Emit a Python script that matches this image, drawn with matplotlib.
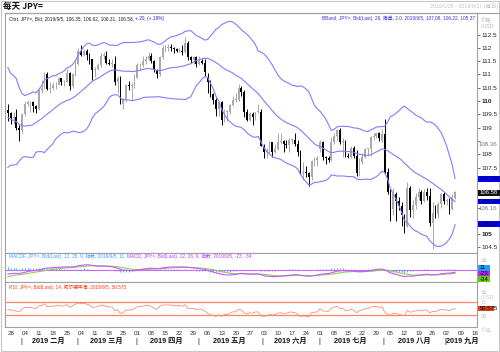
import numpy as np
import pandas as pd
import matplotlib
matplotlib.use('Agg')
import matplotlib.pyplot as plt
from matplotlib import font_manager, transforms
from matplotlib.patches import Rectangle
from matplotlib.lines import Line2D

plt.rcParams['font.family'] = ['Liberation Sans', 'Noto Sans CJK SC', 'DejaVu Sans']
_names = {f.name for f in font_manager.fontManager.ttflist}
NARROW = 'Liberation Sans Narrow' if 'Liberation Sans Narrow' in _names else 'Liberation Sans'
FN = [NARROW, 'Noto Sans CJK SC', 'DejaVu Sans']
FS = ['Liberation Sans', 'Noto Sans CJK SC', 'DejaVu Sans']
LEG = 3.45

# ---------------- data ----------------
# closes before the visible window (2018-11-01 .. 2019-01-24), used only to warm up indicators
warmup_close = [
    112.7, 113.2, 113.2, 113.4, 113.5, 114.0, 113.8, 114.0, 113.8, 113.6, 113.6,
    112.8, 112.6, 112.8, 113.0, 112.9, 112.9, 113.5, 113.8, 113.7, 113.5, 113.5,
    113.6, 112.8, 113.2, 112.7, 112.6, 113.3, 113.4, 113.3, 113.6, 113.4, 112.8,
    112.5, 112.4, 111.2, 111.2, 110.3, 110.5, 111.3, 110.9, 110.3, 109.7,
    109.6, 108.9, 107.7, 108.5, 108.7, 108.7, 108.2, 108.4, 108.5, 108.2, 108.7,
    108.9, 109.2, 109.8, 109.7, 109.4, 109.6, 109.6]

ohlc = [
    (109.65, 109.90, 109.25, 109.55), (109.55, 109.60, 109.15, 109.35), (109.35, 109.60, 109.15, 109.40),
    (109.40, 109.70, 108.90, 109.00), (109.00, 109.10, 108.50, 108.90), (108.90, 109.55, 108.80, 109.50),
    (109.50, 110.00, 109.45, 109.90), (109.90, 110.05, 109.80, 109.95), (109.95, 110.00, 109.60, 109.95),
    (109.95, 110.00, 109.60, 109.80), (109.80, 109.85, 109.55, 109.70), (109.70, 110.45, 109.65, 110.40),
    (110.40, 110.80, 110.30, 110.50), (110.50, 111.10, 110.45, 111.00), (111.00, 111.10, 110.40, 110.45),
    (110.45, 110.70, 110.30, 110.50), (110.50, 110.70, 110.40, 110.60), (110.60, 110.70, 110.45, 110.60),
    (110.60, 110.90, 110.60, 110.85), (110.85, 110.85, 110.60, 110.70), (110.70, 110.80, 110.55, 110.70),
    (110.70, 111.20, 110.70, 111.05), (111.05, 111.10, 110.40, 110.55), (110.55, 111.05, 110.50, 111.00),
    (111.00, 111.50, 110.95, 111.40), (111.40, 112.00, 111.35, 111.90), (111.90, 112.10, 111.70, 111.75),
    (111.75, 111.95, 111.70, 111.90), (111.90, 111.95, 111.55, 111.75), (111.75, 111.80, 111.40, 111.60),
    (111.60, 111.60, 110.80, 111.15), (111.15, 111.30, 110.90, 111.20), (111.20, 111.45, 111.15, 111.35),
    (111.35, 111.80, 111.30, 111.70), (111.70, 111.85, 111.60, 111.70), (111.70, 111.90, 111.40, 111.45),
    (111.45, 111.60, 111.35, 111.40), (111.40, 111.60, 111.30, 111.40), (111.40, 111.70, 110.60, 110.70),
    (110.70, 110.95, 110.30, 110.85), (110.85, 110.95, 109.90, 109.90), (109.90, 110.10, 109.70, 110.05),
    (110.05, 110.65, 109.95, 110.60), (110.60, 110.75, 110.40, 110.55), (110.55, 110.70, 110.00, 110.60),
    (110.60, 111.00, 110.50, 110.85), (110.85, 111.45, 110.85, 111.35), (111.35, 111.45, 111.15, 111.35),
    (111.35, 111.70, 111.30, 111.50), (111.50, 111.70, 111.40, 111.60), (111.60, 111.85, 111.55, 111.70),
    (111.70, 111.80, 111.45, 111.50), (111.50, 111.55, 111.10, 111.15), (111.15, 111.20, 110.85, 111.00),
    (111.00, 111.70, 110.95, 111.65), (111.65, 112.10, 111.60, 112.00), (112.00, 112.10, 111.85, 112.00),
    (112.00, 112.15, 111.90, 112.05), (112.05, 112.15, 111.90, 112.00), (112.00, 112.05, 111.80, 111.95),
    (111.95, 112.00, 111.85, 111.90), (111.90, 112.00, 111.85, 111.95), (111.90, 112.10, 111.75, 111.85),
    (111.85, 112.40, 111.80, 112.20), (112.20, 112.25, 111.55, 111.65), (111.65, 111.70, 111.45, 111.55),
    (111.55, 111.70, 111.40, 111.65), (111.65, 111.70, 111.30, 111.40), (111.40, 111.70, 111.35, 111.50),
    (111.50, 111.60, 111.40, 111.45), (111.45, 111.60, 110.95, 111.10), (110.90, 111.05, 110.30, 110.70),
    (110.70, 110.80, 110.15, 110.25), (110.25, 110.30, 109.90, 110.05), (110.05, 110.10, 109.45, 109.70),
    (109.70, 110.00, 109.45, 109.95), (109.95, 110.00, 109.10, 109.30), (109.30, 109.70, 109.20, 109.60),
    (109.60, 109.65, 109.25, 109.60), (109.60, 109.90, 109.50, 109.85), (109.85, 110.20, 109.80, 110.05),
    (110.05, 110.30, 109.95, 110.05), (110.05, 110.65, 110.00, 110.50), (110.50, 110.55, 110.20, 110.35),
    (110.35, 110.40, 109.40, 109.60), (109.60, 109.70, 109.25, 109.30), (109.30, 109.60, 109.25, 109.50),
    (109.50, 109.60, 109.10, 109.40), (109.40, 109.60, 109.30, 109.60), (109.60, 109.90, 109.55, 109.60),
    (109.60, 109.70, 108.30, 108.30), (108.30, 108.40, 107.85, 108.10), (108.10, 108.25, 107.85, 108.15),
    (108.15, 108.50, 108.05, 108.45), (108.45, 108.45, 107.90, 108.10), (108.10, 108.40, 108.05, 108.20),
    (108.20, 108.80, 108.15, 108.45), (108.45, 108.80, 108.40, 108.50), (108.50, 108.55, 108.10, 108.40),
    (108.40, 108.55, 108.25, 108.35), (108.35, 108.60, 108.10, 108.55), (108.55, 108.60, 108.40, 108.55),
    (108.55, 108.80, 108.30, 108.40), (108.40, 108.55, 107.95, 108.10), (108.10, 108.15, 107.25, 107.30),
    (107.30, 107.70, 107.05, 107.35), (107.35, 107.55, 107.15, 107.30), (107.30, 107.35, 106.80, 107.15),
    (107.15, 107.80, 107.05, 107.75), (107.75, 107.90, 107.55, 107.80), (107.80, 107.95, 107.55, 107.85),
    (108.20, 108.55, 108.10, 108.45), (108.45, 108.50, 107.80, 107.90), (107.90, 107.95, 107.65, 107.85),
    (107.85, 107.95, 107.70, 107.80), (107.80, 108.65, 107.75, 108.45), (108.45, 108.80, 108.40, 108.70),
    (108.70, 108.95, 108.55, 108.90), (108.90, 109.00, 108.40, 108.45), (108.45, 108.60, 107.90, 108.50),
    (108.50, 108.55, 107.90, 107.95), (107.95, 108.05, 107.85, 107.90), (107.90, 108.30, 107.85, 108.25),
    (108.25, 108.30, 107.85, 107.95), (107.95, 108.15, 107.20, 107.30), (107.30, 107.85, 107.20, 107.70),
    (107.70, 108.05, 107.65, 107.90), (107.90, 108.25, 107.85, 108.20), (108.20, 108.25, 107.95, 108.20),
    (108.20, 108.70, 107.95, 108.65), (108.65, 108.80, 108.55, 108.70), (108.70, 108.80, 108.60, 108.80),
    (108.80, 108.85, 108.50, 108.60), (108.55, 108.95, 108.45, 108.75), (108.75, 109.32, 107.25, 107.35),
    (107.35, 107.50, 106.50, 106.60), (106.60, 106.70, 105.50, 105.95), (105.95, 106.75, 105.70, 106.50),
    (106.50, 106.60, 105.50, 106.25), (106.25, 106.40, 105.90, 106.05), (106.05, 106.20, 105.30, 105.70),
    (105.70, 105.75, 105.05, 105.30), (105.30, 106.95, 105.25, 106.75), (106.75, 106.80, 105.65, 105.90),
    (105.90, 106.30, 105.60, 106.10), (106.10, 106.55, 105.95, 106.40), (106.40, 106.75, 106.30, 106.60),
    (106.60, 106.65, 106.15, 106.25), (106.25, 106.70, 106.20, 106.60), (106.60, 106.75, 106.30, 106.45),
    (106.45, 106.75, 105.30, 105.40), (105.40, 106.20, 104.45, 105.80), (105.80, 106.10, 105.60, 105.75),
    (105.75, 106.20, 105.60, 106.15), (106.15, 106.55, 106.00, 106.50), (106.50, 106.60, 106.15, 106.25),
    (106.25, 106.35, 106.10, 106.25), (106.25, 106.35, 105.75, 105.95), (105.95, 106.50, 105.90, 106.40),
    (106.35, 106.62, 106.31, 106.58)]

price_ticks = [104.5, 105, 105.5, 106, 106.5, 107, 107.5, 108, 108.5, 109, 109.5,
               110, 110.5, 111, 111.5, 112, 112.5]
hidden_ticks = [105.5, 106, 106.5, 107, 108.5]   # covered by the value boxes in the reference
month_names = {2: '二月', 3: '三月', 4: '四月', 5: '五月', 6: '六月', 7: '七月', 8: '八月', 9: '九月'}

# ---------------- indicators ----------------
o = np.array([r[0] for r in ohlc]); h = np.array([r[1] for r in ohlc])
l = np.array([r[2] for r in ohlc]); c = np.array([r[3] for r in ohlc])
n = len(c)
full = pd.Series(list(warmup_close) + list(c))
nw = len(warmup_close)
mid = full.rolling(26).mean().values[nw:]
sd = full.rolling(26).std(ddof=0).values[nw:]
up_b, lo_b = mid + 2 * sd, mid - 2 * sd
ema12 = full.ewm(span=12, adjust=False).mean()
ema26 = full.ewm(span=26, adjust=False).mean()
macd_full = ema12 - ema26
sig_full = macd_full.ewm(span=9, adjust=False).mean()
macd = macd_full.values[nw:] * 100
sig = sig_full.values[nw:] * 100
hist = macd - sig
d = full.diff()
gain = d.clip(lower=0).ewm(alpha=1 / 14, adjust=False).mean()
loss = (-d.clip(upper=0)).ewm(alpha=1 / 14, adjust=False).mean()
rsi = (100 - 100 / (1 + gain / loss)).values[nw:]

all_days = pd.bdate_range('2019-01-25', '2019-09-17')
x = np.arange(n)

# ---------------- figure ----------------
W, H = 500, 352
fig = plt.figure(figsize=(5, 3.52), dpi=100)
fig.patch.set_facecolor('white')
fx = lambda px: px / W
fy = lambda py: 1 - py / H
L, R = 5, 477
ax = fig.add_axes([fx(L), fy(253), fx(R - L), (253 - 12.5) / H])
axm = fig.add_axes([fx(L), fy(282), fx(R - L), (282 - 253) / H])
axr = fig.add_axes([fx(L), fy(327), fx(R - L), (327 - 282) / H])
XL = (-1.03, 166.8)
for a in (ax, axm, axr):
    a.set_xlim(*XL)
    for s in a.spines.values():
        s.set_color('#a0a0a0'); s.set_linewidth(0.8)
    a.tick_params(axis='x', bottom=False, labelbottom=False)
    a.tick_params(axis='y', left=False, labelleft=False)

# candles
upc = c >= o
cols = np.where(upc, '#a9a9a9', '#000000')
ax.vlines(x, l, h, colors=cols, linewidth=0.7, zorder=2)
ax.bar(x, np.maximum(np.abs(c - o), 0.02), bottom=np.minimum(o, c), width=0.62,
       color=cols, linewidth=0, zorder=3)
bb = '#7f7fff'
for s in (up_b, mid, lo_b):
    ax.plot(x, s, color=bb, lw=0.8, zorder=4)
ax.set_ylim(104.29, 113.33)
ax.yaxis.tick_right()
ax.set_yticks(price_ticks)
ax.set_yticklabels(['' if v in hidden_ticks else f'{v:g}' for v in price_ticks])
ax.tick_params(axis='y', right=True, labelright=True, length=2, width=0.6, pad=1,
               labelsize=4.6, colors='#555555', labelcolor='#222222')
for t, v in zip(ax.get_yticklabels(), price_ticks):
    t.set_family(FS)
    if v in (110, 105):
        t.set_fontweight('bold')

# legends main
t1 = ax.text(0.008, 0.985, 'Chrt, JPY=, Bid, 2019/9/5, 106.35, 106.62, 106.31, 106.58, ',
             transform=ax.transAxes, fontsize=LEG, family=FN, color='#222222', va='top', ha='left')
ax.annotate('+.20, (+.19%)', xy=(1, 0), xycoords=t1, va='bottom', ha='left',
            fontsize=LEG, family=FN, color='#2222dd')
ax.text(0.995, 0.985, 'BBand, JPY=, Bid(Last), 26, 简单, 2.0, 2019/9/5, 107.08, 106.22, 105.37',
        transform=ax.transAxes, fontsize=LEG, family=FN, color='#3333dd', va='top', ha='right')

# MACD panel
axm.set_ylim(-118, 163)
axm.axhline(0, color='#cc66ff', lw=0.8, zorder=1)
axm.vlines(x, 0, hist, colors='#55aaff', linewidth=0.7, zorder=2)
axm.plot(x, sig, color='#8fd14f', lw=0.8, zorder=3)
axm.plot(x, macd, color='#cc55ff', lw=0.8, zorder=4)
m1 = axm.text(0.008, 0.95, 'MACDF, JPY=, Bid(Last), 12, 26, 9, 指数, 2019/9/5, 11, ',
              transform=axm.transAxes, fontsize=LEG, family=FN, color='#3aa0ff', va='top', ha='left')
axm.annotate('MACD, JPY=, Bid(Last), 12, 26, 9, 指数, 2019/9/5, -23, -34', xy=(1, 0),
             xycoords=m1, va='bottom', ha='left', fontsize=LEG, family=FN, color='#b040ff')

# RSI panel
axr.set_ylim(-6, 132.5)
axr.axhline(70, color='#ff8466', lw=0.9)
axr.axhline(30, color='#ff8466', lw=0.9)
axr.plot(x, rsi, color='#f4916f', lw=0.6)
axr.text(0.008, 0.95, 'RSI, JPY=, Bid(Last), 14, 威尔德平滑, 2019/9/5, 50.575',
         transform=axr.transAxes, fontsize=LEG, family=FN, color='#ff3a10', va='top', ha='left')

# date axis
pos = {dd: i for i, dd in enumerate(all_days)}
mondays = [dd for dd in all_days if dd.weekday() == 0]
axr.set_xticks([pos[dd] for dd in mondays])
axr.set_xticklabels([f'{dd.day:02d}' for dd in mondays])
axr.tick_params(axis='x', bottom=True, labelbottom=True, length=0, pad=3.0,
                labelsize=4.5, labelcolor='#333333')
for t in axr.get_xticklabels():
    t.set_family(FS)

blend = transforms.blended_transform_factory(axr.transData, fig.transFigure)
starts = []
for m in range(2, 10):
    idx = [i for i, dd in enumerate(all_days) if dd.month == m]
    starts.append((m, idx[0]))
for k, (m, s0) in enumerate(starts):
    fig.text(s0 - 0.4, fy(341.5), '|', transform=blend, fontsize=5.5, color='#111111',
             ha='center', va='center', family=FS)
    if k + 1 < len(starts):
        cx = (s0 + starts[k + 1][1]) / 2 - 0.6
        fig.text(cx, fy(341.5), f'2019 {month_names[m]}', transform=blend, fontsize=5.2,
                 ha='center', va='center', family=FS, color='#111111', fontweight='bold')
    else:
        fig.text(s0 - 0.1, fy(341.5), f'2019 {month_names[m]}', transform=blend, fontsize=5.2,
                 ha='left', va='center', family=FS, color='#111111', fontweight='bold')

# header
fig.text(fx(3), fy(6), '每天 JPY=', fontsize=6.2, family=['Noto Sans CJK SC', 'DejaVu Sans'],
         color='#111111', va='center', ha='left', fontweight='bold')
fig.text(fx(498), fy(6), '2019/1/25 - 2019/9/17 (每日)', fontsize=3.8, family=FN,
         color='#c0c0c0', va='center', ha='right')
fig.lines.append(Line2D([fx(5), fx(500)], [fy(12.5), fy(12.5)], transform=fig.transFigure,
                        color='#a0a0a0', lw=0.8))
fig.text(fx(481), fy(20), '价格', fontsize=3.8, family=FS, color='#b8b8b8', va='center')
fig.text(fx(481), fy(26), '/USD', fontsize=3.8, family=FS, color='#b8b8b8', va='center')
fig.text(fx(479), fy(144.5), '108.36', fontsize=4.4, family=FS, color='#777777', va='center')
fig.text(fx(479), fy(208.5), '106.16', fontsize=4.4, family=FS, color='#777777', va='center')


def rbox(yc, text, fc, tc='#000000', w=22, hgt=5.6):
    fig.patches.append(Rectangle((fx(477.5), fy(yc + hgt / 2)), w / W, hgt / H,
                                 transform=fig.transFigure, facecolor=fc, edgecolor='none', zorder=5))
    fig.text(fx(479.5), fy(yc), text, fontsize=4.3, family=FS, color=tc, va='center',
             ha='left', zorder=6)


rbox(179, '107.08', '#0000ee', '#000033')
rbox(201.5, '106.22', '#0000ee', '#000033')
rbox(224, '105.37', '#0000ee', '#000033')
rbox(192.7, '106.58', '#111111', '#ffffff', hgt=6)
rbox(267.7, '11', '#1e9bff', '#000000', w=12)
rbox(273.4, '-23', '#b030e8', '#000000', w=12)
rbox(279.2, '-34', '#66cc11', '#000000', w=12)
rbox(308.3, '50.575', '#e8401a', '#000000', w=16)
fig.text(fx(481), fy(316), '30', fontsize=3.8, family=FS, color='#b0b0b0', va='center')
fig.text(fx(481), fy(302.5), '70', fontsize=3.8, family=FS, color='#c8c8c8', va='center')
fig.text(fx(481), fy(292), '值', fontsize=3.8, family=FS, color='#c8c8c8', va='center')
fig.text(fx(481), fy(297.5), '/USD', fontsize=3.8, family=FS, color='#c8c8c8', va='center')
fig.text(fx(481), fy(260), '值', fontsize=3.8, family=FS, color='#c8c8c8', va='center')
fig.text(fx(481), fy(330), '价值', fontsize=3.8, family=FS, color='#d0d0d0', va='center')

# outer frame
fig.patches.append(Rectangle((0.001, 0.002), 0.997, 0.996, transform=fig.transFigure,
                             fill=False, edgecolor='#c8c8c8', lw=0.8))

fig.savefig('out.png', dpi=100)
